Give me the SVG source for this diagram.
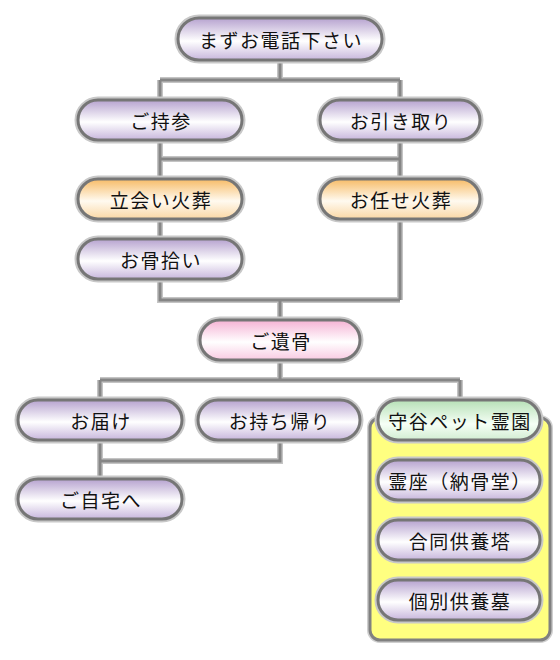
<svg xmlns="http://www.w3.org/2000/svg" width="560" height="660" viewBox="0 0 560 660">
<defs>
<linearGradient id="gP" x1="0" y1="0" x2="0" y2="1"><stop offset="0" stop-color="#b6a2cf"/><stop offset="0.55" stop-color="#ffffff"/><stop offset="1" stop-color="#c7b6dc"/></linearGradient>
<linearGradient id="gO" x1="0" y1="0" x2="0" y2="1"><stop offset="0" stop-color="#f7bb66"/><stop offset="0.55" stop-color="#fffaf0"/><stop offset="1" stop-color="#fad7a4"/></linearGradient>
<linearGradient id="gK" x1="0" y1="0" x2="0" y2="1"><stop offset="0" stop-color="#f5b2d4"/><stop offset="0.55" stop-color="#ffffff"/><stop offset="1" stop-color="#f8cae2"/></linearGradient>
<linearGradient id="gG" x1="0" y1="0" x2="0" y2="1"><stop offset="0" stop-color="#b6e0b6"/><stop offset="0.6" stop-color="#f6fff6"/><stop offset="1" stop-color="#d2edd2"/></linearGradient>
</defs>
<style>
.halo{fill:none;stroke:#c8c8c8;stroke-width:7}
.pill{stroke:#767676;stroke-width:3}
.p{fill:url(#gP)}.o{fill:url(#gO)}.k{fill:url(#gK)}.g{fill:url(#gG)}
.cu{fill:none;stroke:#c4c4c4;stroke-width:6}
.c{fill:none;stroke:#858585;stroke-width:3}
text{font-family:"Noto Sans CJK JP","Noto Sans CJK SC",sans-serif;font-size:19px;letter-spacing:1.5px;fill:#111;text-anchor:middle;dominant-baseline:central}
</style>
<g id="connectors">
<path class="cu" d="M280 60V80M160 80H400M160 80V100M400 80V100M160 140V179M400 140V179M160 159H400M160 219V239M160 279V300H400M400 219V300M280 300V320M280 360V380M100 380H460M100 380V400M460 380V400M100 440V479M100 461H280V440"/>
<path class="c" d="M280 60V80M160 80H400M160 80V100M400 80V100M160 140V179M400 140V179M160 159H400M160 219V239M160 279V300H400M400 219V300M280 300V320M280 360V380M100 380H460M100 380V400M460 380V400M100 440V479M100 461H280V440"/>
</g>
<g id="container">
<rect x="370" y="418" width="180" height="222" rx="10" fill="none" stroke="#cfcfcf" stroke-width="6"/>
<rect x="370" y="418" width="180" height="222" rx="10" fill="#ffff80" stroke="#808080" stroke-width="3"/>
</g>
<g id="n1"><rect class="halo" x="178" y="18" width="204" height="42" rx="21"/><rect class="pill p" x="178" y="18" width="204" height="42" rx="21"/><text x="281" y="39">まずお電話下さい</text></g>
<g id="n2"><rect class="halo" x="78" y="100" width="164" height="40" rx="20"/><rect class="pill p" x="78" y="100" width="164" height="40" rx="20"/><text x="161" y="120">ご持参</text></g>
<g id="n3"><rect class="halo" x="320" y="100" width="160" height="40" rx="20"/><rect class="pill p" x="320" y="100" width="160" height="40" rx="20"/><text x="401" y="120">お引き取り</text></g>
<g id="n4"><rect class="halo" x="78" y="179" width="164" height="40" rx="20"/><rect class="pill o" x="78" y="179" width="164" height="40" rx="20"/><text x="161" y="199">立会い火葬</text></g>
<g id="n5"><rect class="halo" x="320" y="179" width="160" height="40" rx="20"/><rect class="pill o" x="320" y="179" width="160" height="40" rx="20"/><text x="401" y="199">お任せ火葬</text></g>
<g id="n6"><rect class="halo" x="78" y="239" width="164" height="40" rx="20"/><rect class="pill p" x="78" y="239" width="164" height="40" rx="20"/><text x="161" y="259">お骨拾い</text></g>
<g id="n7"><rect class="halo" x="200" y="320" width="160" height="40" rx="20"/><rect class="pill k" x="200" y="320" width="160" height="40" rx="20"/><text x="281" y="340">ご遺骨</text></g>
<g id="n8"><rect class="halo" x="18" y="400" width="164" height="40" rx="20"/><rect class="pill p" x="18" y="400" width="164" height="40" rx="20"/><text x="101" y="420">お届け</text></g>
<g id="n9"><rect class="halo" x="198" y="400" width="162" height="40" rx="20"/><rect class="pill p" x="198" y="400" width="162" height="40" rx="20"/><text x="280" y="420">お持ち帰り</text></g>
<g id="n10"><rect class="halo" x="378" y="400" width="162" height="40" rx="20"/><rect class="pill g" x="378" y="400" width="162" height="40" rx="20"/><text x="460" y="420">守谷ペット霊園</text></g>
<g id="n11"><rect class="halo" x="18" y="479" width="164" height="40" rx="20"/><rect class="pill p" x="18" y="479" width="164" height="40" rx="20"/><text x="101" y="499">ご自宅へ</text></g>
<g id="n12"><rect class="halo" x="378" y="460" width="162" height="40" rx="20"/><rect class="pill p" x="378" y="460" width="162" height="40" rx="20"/><text x="460" y="480">霊座（納骨堂）</text></g>
<g id="n13"><rect class="halo" x="378" y="520" width="162" height="40" rx="20"/><rect class="pill p" x="378" y="520" width="162" height="40" rx="20"/><text x="460" y="540">合同供養塔</text></g>
<g id="n14"><rect class="halo" x="378" y="580" width="162" height="40" rx="20"/><rect class="pill p" x="378" y="580" width="162" height="40" rx="20"/><text x="460" y="600">個別供養墓</text></g>
</svg>
